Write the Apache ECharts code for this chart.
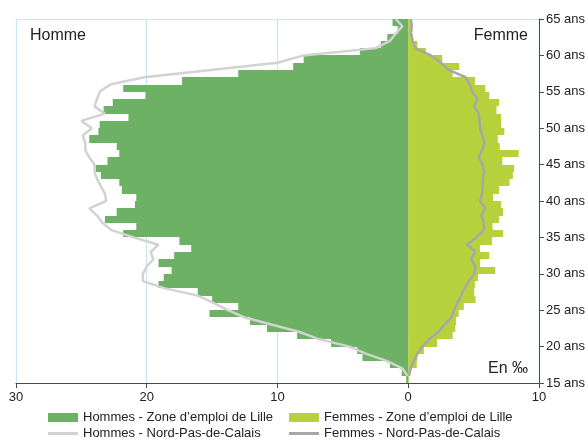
<!DOCTYPE html>
<html>
<head>
<meta charset="utf-8">
<script src="https://cdn.jsdelivr.net/npm/echarts@6/dist/echarts.min.js"></script>
<style>
  html, body { margin: 0; padding: 0; background: #fff; }
  #chart { width: 588px; height: 441px; }
</style>
</head>
<body>
<div id="chart"></div>
<script>
// Age of each one-year bar (bar spans age .. age+1)
const ages = [15, 16, 17, 18, 19, 20, 21, 22, 23, 24,
              25, 26, 27, 28, 29, 30, 31, 32, 33, 34,
              35, 36, 37, 38, 39, 40, 41, 42, 43, 44,
              45, 46, 47, 48, 49, 50, 51, 52, 53, 54,
              55, 56, 57, 58, 59, 60, 61, 62, 63, 64];

// Ages at which the regional profile lines are sampled
const lineAges = [16, 17, 18, 19, 20, 21, 22, 23, 24, 25,
                  26, 27, 28, 29, 30, 31, 32, 33, 34, 35,
                  36, 37, 38, 39, 40, 41, 42, 43, 44, 45,
                  46, 47, 48, 49, 50, 51, 52, 53, 54, 55,
                  56, 57, 58, 59, 60, 61, 62, 63, 64, 65];

// Zone d'emploi de Lille, per mille
const menLille = [0.15, 0.5, 1.4, 3.5, 3.9, 5.9, 8.5, 10.8, 12.1, 15.2,
                  13.0, 15.0, 16.1, 19.1, 18.7, 18.1, 19.1, 17.9, 16.6, 17.5,
                  21.8, 20.8, 23.2, 22.3, 20.9, 20.8, 21.9, 22.1, 23.5, 23.9,
                  23.0, 22.1, 22.3, 24.4, 23.7, 23.6, 21.4, 23.3, 22.6, 20.1,
                  21.8, 17.3, 13.0, 8.8, 8.0, 3.7, 2.1, 1.6, 0.8, 1.2];

const womenLille = [0.05, 0.15, 0.65, 0.7, 1.2, 2.2, 3.4, 3.6, 3.65, 3.85,
                    4.25, 5.15, 5.05, 5.1, 5.35, 6.65, 5.5, 6.2, 5.5, 6.4,
                    7.25, 6.45, 6.95, 7.25, 7.1, 6.5, 6.95, 7.75, 8.0, 8.1,
                    7.2, 8.45, 7.0, 6.85, 7.35, 7.1, 7.1, 6.75, 6.95, 6.2,
                    5.9, 5.1, 3.4, 3.9, 2.6, 1.35, 0.7, 0.35, 0.3, 0.25];

// Nord-Pas-de-Calais, per mille
const menRegion = [0.05, 0.45, 1.6, 3.2, 4.5, 6.8, 8.3, 10.4, 12.5, 13.8,
                   14.9, 16.1, 18.6, 20.3, 20.3, 20.0, 19.5, 19.7, 19.1, 21.0,
                   22.7, 23.4, 23.8, 24.4, 23.1, 23.2, 23.5, 23.8, 24.0, 24.0,
                   24.4, 24.7, 24.7, 24.9, 24.2, 25.0, 23.2, 24.0, 23.8, 23.6,
                   22.8, 20.2, 15.1, 10.0, 8.0, 2.5, 1.4, 0.95, 0.45, 0.95];

const womenRegion = [0.05, 0.2, 0.4, 0.7, 1.05, 1.6, 2.3, 2.75, 3.3, 3.5,
                     3.75, 4.05, 4.3, 4.65, 5.05, 5.15, 4.8, 5.15, 4.5, 5.2,
                     5.8, 5.8, 5.6, 5.9, 5.5, 5.65, 5.7, 5.7, 5.8, 5.7,
                     5.4, 5.65, 5.85, 5.65, 5.5, 5.45, 5.4, 5.05, 5.3, 4.9,
                     4.7, 4.4, 3.1, 2.5, 1.73, 0.55, 0.35, 0.2, 0.28, 0.2];

const seriesNames = {
  menLille: 'Hommes - Zone d\u2019emploi de Lille',
  womenLille: 'Femmes - Zone d\u2019emploi de Lille',
  menRegion: 'Hommes - Nord-Pas-de-Calais',
  womenRegion: 'Femmes - Nord-Pas-de-Calais'
};

const FONT = '"Liberation Sans", Arial, Helvetica, sans-serif';
const GRID_BLUE = '#c9e4f4';
const AXIS_DARK = '#4a4a4a';
const TEXT = '#222222';
const LINE_ICON = 'path://M0,0H30V3H0Z';

// One rectangle per age, from 0 out to the value, one year tall
function ageBar(params, api) {
  const v = api.value(0);
  const a = api.value(1);
  const base = api.coord([0, a]);
  const end = api.coord([v, a + 1]);
  const y0 = Math.round(end[1]);
  const y1 = Math.round(base[1]);
  return {
    type: 'rect',
    shape: {
      x: Math.min(base[0], end[0]),
      y: y0,
      width: Math.abs(end[0] - base[0]),
      height: y1 - y0
    },
    style: api.style()
  };
}

function legendColumn(left, names) {
  return {
    left: left, top: 411, height: 40, padding: 0,
    orient: 'vertical', itemWidth: 30, itemHeight: 9, itemGap: 3,
    selectedMode: false,
    textStyle: { fontSize: 13, color: TEXT, fontFamily: FONT },
    data: names
  };
}

const chart = echarts.init(document.getElementById('chart'), null, { renderer: 'canvas' });

chart.setOption({
  animation: false,
  backgroundColor: '#ffffff',
  textStyle: { fontFamily: FONT },
  grid: { left: 16, right: 48, top: 19, bottom: 58, containLabel: false },
  xAxis: [
    {
      type: 'value', min: -30, max: 10, interval: 10, position: 'bottom',
      axisLine: { show: true, onZero: false, lineStyle: { color: AXIS_DARK, width: 1 } },
      axisTick: { show: true, length: 5, lineStyle: { color: AXIS_DARK } },
      axisLabel: { formatter: v => String(Math.abs(v)), fontSize: 13, color: TEXT, margin: 8, fontFamily: FONT },
      splitLine: { show: true, lineStyle: { color: GRID_BLUE, width: 1.2 } }
    },
    {
      type: 'value', min: -30, max: 10, interval: 10, position: 'top',
      axisLine: { show: true, onZero: false, lineStyle: { color: GRID_BLUE, width: 1.2 } },
      axisTick: { show: false },
      axisLabel: { show: false },
      splitLine: { show: false }
    }
  ],
  yAxis: {
    type: 'value', min: 15, max: 65, interval: 5, position: 'right',
    axisLine: { show: true, onZero: false, lineStyle: { color: AXIS_DARK, width: 1 } },
    axisTick: { show: true, length: 5, lineStyle: { color: AXIS_DARK } },
    axisLabel: { formatter: v => v + ' ans', fontSize: 13, color: TEXT, margin: 7, fontFamily: FONT },
    splitLine: { show: false }
  },
  legend: [
    legendColumn(48, [
      { name: seriesNames.menLille, icon: 'rect' },
      { name: seriesNames.menRegion, icon: LINE_ICON }
    ]),
    legendColumn(289, [
      { name: seriesNames.womenLille, icon: 'rect' },
      { name: seriesNames.womenRegion, icon: LINE_ICON }
    ])
  ],
  graphic: [
    { type: 'text', left: 30, top: 28, style: { text: 'Homme', font: '16px ' + FONT, fill: TEXT } },
    { type: 'text', right: 60, top: 28, style: { text: 'Femme', font: '16px ' + FONT, fill: TEXT } },
    { type: 'text', right: 60, top: 361, style: { text: 'En \u2030', font: '16px ' + FONT, fill: TEXT } }
  ],
  series: [
    {
      name: seriesNames.menLille, type: 'custom', xAxisIndex: 0, yAxisIndex: 0,
      renderItem: ageBar, clip: true,
      itemStyle: { color: '#6db164' },
      encode: { x: 0, y: 1 },
      data: ages.map((a, i) => [-menLille[i], a]),
      z: 2
    },
    {
      name: seriesNames.womenLille, type: 'custom', xAxisIndex: 0, yAxisIndex: 0,
      renderItem: ageBar, clip: true,
      itemStyle: { color: '#b6d13b' },
      encode: { x: 0, y: 1 },
      data: ages.map((a, i) => [womenLille[i], a]),
      z: 2
    },
    {
      name: seriesNames.menRegion, type: 'line', xAxisIndex: 0, yAxisIndex: 0,
      symbol: 'none', showSymbol: false,
      itemStyle: { color: '#d2d2d2' },
      lineStyle: { color: '#d2d2d2', width: 2.5 },
      data: lineAges.map((a, i) => [-menRegion[i], a]),
      z: 3
    },
    {
      name: seriesNames.womenRegion, type: 'line', xAxisIndex: 0, yAxisIndex: 0,
      symbol: 'none', showSymbol: false,
      itemStyle: { color: '#a7a7a7' },
      lineStyle: { color: '#a7a7a7', width: 2.5 },
      data: lineAges.map((a, i) => [womenRegion[i], a]),
      z: 3
    }
  ]
});
</script>
</body>
</html>
